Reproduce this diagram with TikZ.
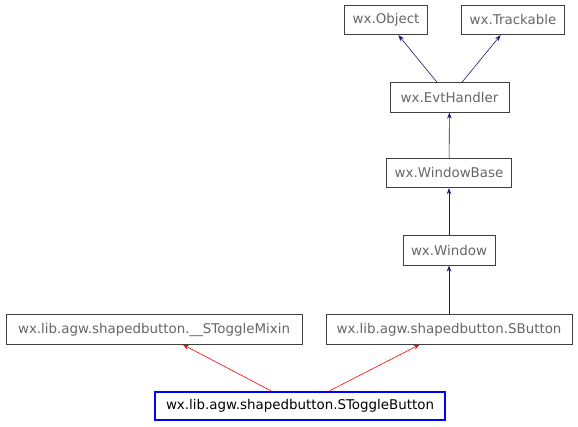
\documentclass[tikz,border=0pt]{standalone}
\usepackage{fontspec}
\setmainfont{DejaVu Sans}
\usetikzlibrary{arrows.meta}
\definecolor{txtgray}{HTML}{666666}
\definecolor{boxgray}{HTML}{404040}
\definecolor{edgeblue}{HTML}{191970}
\tikzset{
  cls/.style={draw=boxgray, line width=0.8pt, rectangle, inner xsep=8pt, inner ysep=0pt, text=txtgray, font=\fontsize{13.4}{15}\selectfont, minimum height=29.5pt},
  focus/.style={draw=blue, line width=2.4pt, rectangle, inner xsep=8pt, inner ysep=0pt, text=black, font=\fontsize{13.4}{15}\selectfont, minimum height=28pt},
  inh/.style={draw=edgeblue, line width=0.6pt, -{Stealth[length=6pt,width=4.5pt]}},
  inhr/.style={draw=red, line width=0.6pt, -{Stealth[length=6pt,width=4.5pt]}},
}
\begin{document}
\begin{tikzpicture}[x=1pt,y=-1pt]
\useasboundingbox (0,0) rectangle (578,427);
\node[cls] (obj) at (386,20) {wx.Object};
\node[cls] (trk) at (513,20) {wx.Trackable};
\node[cls, minimum width=119pt] (evt) at (449.5,97.5) {wx.EvtHandler};
\node[cls] (wb) at (449,173) {wx.WindowBase};
\node[cls] (win) at (449,250.5) {wx.Window};
\node[cls, minimum width=246pt] (sb) at (449,329.5) {wx.lib.agw.shapedbutton.SButton};
\node[cls, minimum width=296pt] (mix) at (154,329.5) {wx.lib.agw.shapedbutton.\_\_SToggleMixin};
\node[focus, minimum width=290pt] (stb) at (300,406) {wx.lib.agw.shapedbutton.SToggleButton};
\draw[inh] (evt) -- (obj);
\draw[inh] (evt) -- (trk);
\draw[inh] (wb) -- (evt);
\draw[inh] (win) -- (wb);
\draw[inh] (sb) -- (win);
\draw[inhr] (stb) -- (mix);
\draw[inhr] (stb) -- (sb);
\end{tikzpicture}
\end{document}
